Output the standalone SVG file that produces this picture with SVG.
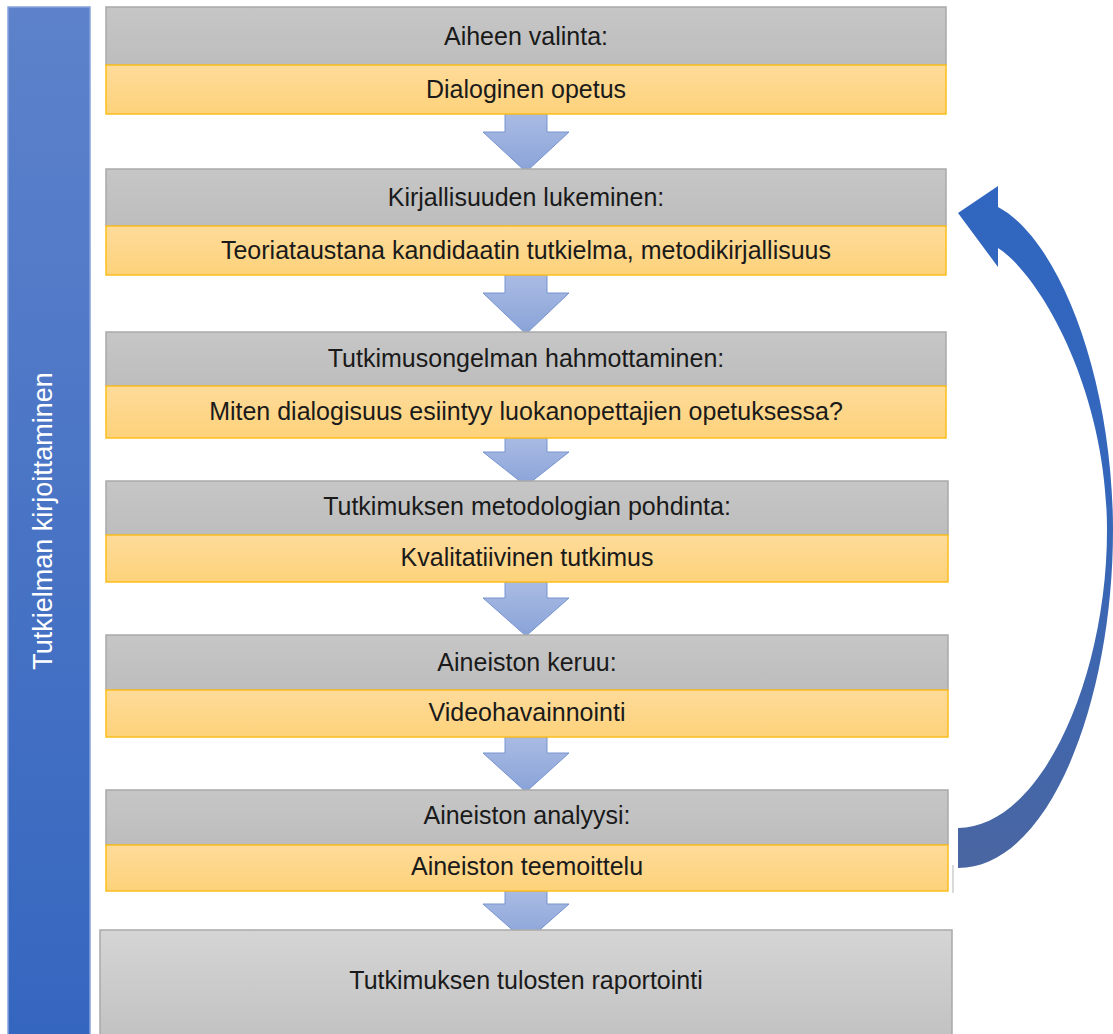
<svg xmlns="http://www.w3.org/2000/svg" width="1113" height="1034" viewBox="0 0 1113 1034">
<defs>
<linearGradient id="gBar" x1="0" y1="0" x2="0" y2="1"><stop offset="0" stop-color="#5d82cb"/><stop offset="1" stop-color="#3566bf"/></linearGradient>
<linearGradient id="gGray" x1="0" y1="0" x2="0" y2="1"><stop offset="0" stop-color="#c6c6c6"/><stop offset="1" stop-color="#bdbdbd"/></linearGradient>
<linearGradient id="gGray2" x1="0" y1="0" x2="0" y2="1"><stop offset="0" stop-color="#d5d5d5"/><stop offset="1" stop-color="#c2c2c2"/></linearGradient>
<linearGradient id="gYel" x1="0" y1="0" x2="0" y2="1"><stop offset="0" stop-color="#fedb9a"/><stop offset="1" stop-color="#fdd27a"/></linearGradient>
<linearGradient id="gArr" x1="0" y1="0" x2="0" y2="1"><stop offset="0" stop-color="#a9bbe3"/><stop offset="1" stop-color="#89a3d8"/></linearGradient>
<linearGradient id="gCurve" x1="0" y1="185" x2="0" y2="868" gradientUnits="userSpaceOnUse"><stop offset="0" stop-color="#3166c0"/><stop offset="0.45" stop-color="#3467bb"/><stop offset="1" stop-color="#4a66a2"/></linearGradient>
<style>
.g{fill:url(#gGray);stroke:#a9a9a9;stroke-width:1.5}
.y{fill:url(#gYel);stroke:#fbbf1e;stroke-width:1.5}
.t{font-family:"Liberation Sans",Arial,sans-serif;font-size:25px;fill:#1a1a1a;text-anchor:middle}
.da{fill:url(#gArr);stroke:#7893cf;stroke-width:1}
</style>
</defs>
<rect width="1113" height="1034" fill="#ffffff"/>
<g id="sidebar">
<rect x="8" y="7" width="82" height="1030" fill="url(#gBar)" stroke="#86a2dc" stroke-width="1.5"/>
<text transform="translate(52,521) rotate(-90)" style="font-family:'Liberation Sans',Arial,sans-serif;font-size:27px;fill:#ffffff;text-anchor:middle">Tutkielman kirjoittaminen</text>
</g>
<g id="connectors">
<path class="da" d="M505,114 L547,114 L547,132 L569,132 L526,172 L483,132 L505,132 Z"/>
<path class="da" d="M505,275 L547,275 L547,293 L569,293 L526,334 L483,293 L505,293 Z"/>
<path class="da" d="M505,438 L547,438 L547,452 L569,452 L526,486 L483,452 L505,452 Z"/>
<path class="da" d="M505,582 L547,582 L547,598 L569,598 L526,636 L483,598 L505,598 Z"/>
<path class="da" d="M505,737 L547,737 L547,753 L569,753 L526,792 L483,753 L505,753 Z"/>
<path class="da" d="M505,891 L547,891 L547,904 L569,904 L526,942 L483,904 L505,904 Z"/>
<path id="loop" fill="url(#gCurve)" d="M958,868 C1050,868 1113,700 1113,530 C1113,380 1060,240 998,207 L998,186 L958,213 L998,267 L998,248 C1040,275 1107,390 1107,530 C1107,680 1040,828 958,828 Z"/>
</g>
<g id="n1"><rect class="g" x="106" y="7" width="840" height="58"/><rect class="y" x="106" y="65" width="840" height="49"/>
<text class="t" x="526" y="45">Aiheen valinta:</text><text class="t" x="526" y="98">Dialoginen opetus</text></g>
<g id="n2"><rect class="g" x="106" y="169" width="840" height="57"/><rect class="y" x="106" y="226" width="840" height="49"/>
<text class="t" x="526" y="206">Kirjallisuuden lukeminen:</text><text class="t" x="526" y="259">Teoriataustana kandidaatin tutkielma, metodikirjallisuus</text></g>
<g id="n3"><rect class="g" x="106" y="332" width="840" height="54"/><rect class="y" x="106" y="386" width="840" height="52"/>
<text class="t" x="526" y="367">Tutkimusongelman hahmottaminen:</text><text class="t" x="526" y="420">Miten dialogisuus esiintyy luokanopettajien opetuksessa?</text></g>
<g id="n4"><rect class="g" x="106" y="481" width="842" height="54"/><rect class="y" x="106" y="535" width="842" height="47"/>
<text class="t" x="527" y="515">Tutkimuksen metodologian pohdinta:</text><text class="t" x="527" y="566">Kvalitatiivinen tutkimus</text></g>
<g id="n5"><rect class="g" x="106" y="635" width="842" height="55"/><rect class="y" x="106" y="690" width="842" height="47"/>
<text class="t" x="527" y="671">Aineiston keruu:</text><text class="t" x="527" y="721">Videohavainnointi</text></g>
<g id="n6"><rect class="g" x="106" y="790" width="842" height="55"/><rect class="y" x="106" y="845" width="842" height="46"/>
<text class="t" x="527" y="824">Aineiston analyysi:</text><text class="t" x="527" y="875">Aineiston teemoittelu</text>
<line x1="953" y1="865" x2="953" y2="893" stroke="#b5b5b5" stroke-width="1"/></g>
<g id="n7"><rect x="100" y="930" width="852" height="106" fill="url(#gGray2)" stroke="#a9a9a9" stroke-width="1.5"/>
<text class="t" x="526" y="989">Tutkimuksen tulosten raportointi</text></g>
</svg>
